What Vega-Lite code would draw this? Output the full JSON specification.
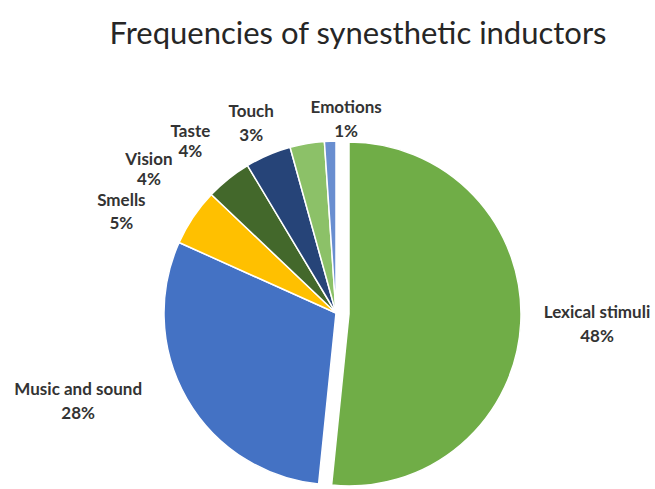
{
  "$schema": "https://vega.github.io/schema/vega-lite/v6.json",
  "autosize": "none",
  "width": 344,
  "height": 344,
  "padding": {"left": 164, "top": 141, "right": 147, "bottom": 4},
  "background": "white",
  "title": {"text": "Frequencies of synesthetic inductors", "fontSize": 31, "font": "Lato", "fontWeight": "normal", "color": "#262626", "anchor": "middle", "dx": 22, "offset": 24, "baseline": "alphabetic"},
  "data": {"values": [
    {"cat": "Lexical stimuli", "value": 48, "idx": 1, "label": "Lexical stimuli\n48%"},
    {"cat": "Music and sound", "value": 28, "idx": 2, "label": "Music and sound\n28%"},
    {"cat": "Smells", "value": 5, "idx": 3, "label": "Smells\n5%"},
    {"cat": "Vision", "value": 4, "idx": 4, "label": "Vision\n4%"},
    {"cat": "Taste", "value": 4, "idx": 5, "label": "Taste\n4%"},
    {"cat": "Touch", "value": 3, "idx": 6, "label": "Touch\n3%"},
    {"cat": "Emotions", "value": 1, "idx": 7, "label": "Emotions\n1%"}
  ]},
  "layer": [
    {"mark": {"type": "arc", "stroke": "white", "strokeWidth": 1.5},
     "encoding": {
       "theta": {"field": "value", "type": "quantitative", "stack": true, "scale": {"domain": [0, 93]}},
       "order": {"field": "idx", "type": "quantitative"},
       "color": {"field": "cat", "type": "nominal", "legend": null, "scale": {"domain": ["Lexical stimuli", "Music and sound", "Smells", "Vision", "Taste", "Touch", "Emotions"], "range": ["#70AD47", "#4472C4", "#FFC000", "#43682B", "#264478", "#8CC168", "#698ED0"]}},
       "opacity": {"condition": {"test": "datum.cat === 'Lexical stimuli'", "value": 0}, "value": 1}}},
    {"mark": {"type": "arc", "stroke": "white", "strokeWidth": 1.5, "xOffset": 13, "yOffset": 1},
     "encoding": {
       "theta": {"field": "value", "type": "quantitative", "stack": true},
       "order": {"field": "idx", "type": "quantitative"},
       "color": {"field": "cat", "type": "nominal", "legend": null},
       "opacity": {"condition": {"test": "datum.cat === 'Lexical stimuli'", "value": 1}, "value": 0}}},
    {"transform": [{"stack": "value", "groupby": [], "sort": [{"field": "idx", "order": "ascending"}], "as": ["v0", "v1"]}, {"filter": "datum.cat === 'Lexical stimuli'"}],
     "mark": {"type": "text", "radius": 248, "thetaOffset": 1.569, "xOffset": 13, "font": "Lato", "fontSize": 17, "fontWeight": "bold", "color": "#333333", "lineBreak": "\n", "lineHeight": 24, "align": "center", "baseline": "middle"},
     "encoding": {"theta": {"field": "v0", "type": "quantitative"}, "text": {"field": "label"}}},
    {"transform": [{"stack": "value", "groupby": [], "sort": [{"field": "idx", "order": "ascending"}], "as": ["v0", "v1"]}, {"filter": "datum.cat === 'Music and sound'"}],
     "mark": {"type": "text", "radius": 269, "thetaOffset": 1.18, "font": "Lato", "fontSize": 17, "fontWeight": "bold", "color": "#333333", "lineBreak": "\n", "lineHeight": 24, "align": "center", "baseline": "middle"},
     "encoding": {"theta": {"field": "v0", "type": "quantitative"}, "text": {"field": "label"}}},
    {"transform": [{"stack": "value", "groupby": [], "sort": [{"field": "idx", "order": "ascending"}], "as": ["v0", "v1"]}, {"filter": "datum.cat === 'Smells'"}],
     "mark": {"type": "text", "radius": 242, "thetaOffset": 0.058, "font": "Lato", "fontSize": 17, "fontWeight": "bold", "color": "#333333", "lineBreak": "\n", "lineHeight": 23, "align": "center", "baseline": "middle"},
     "encoding": {"theta": {"field": "v0", "type": "quantitative"}, "text": {"field": "label"}}},
    {"transform": [{"stack": "value", "groupby": [], "sort": [{"field": "idx", "order": "ascending"}], "as": ["v0", "v1"]}, {"filter": "datum.cat === 'Vision'"}],
     "mark": {"type": "text", "radius": 242, "thetaOffset": -0.073, "font": "Lato", "fontSize": 17, "fontWeight": "bold", "color": "#333333", "lineBreak": "\n", "lineHeight": 20, "align": "center", "baseline": "middle"},
     "encoding": {"theta": {"field": "v0", "type": "quantitative"}, "text": {"field": "label"}}},
    {"transform": [{"stack": "value", "groupby": [], "sort": [{"field": "idx", "order": "ascending"}], "as": ["v0", "v1"]}, {"filter": "datum.cat === 'Taste'"}],
     "mark": {"type": "text", "radius": 232, "thetaOffset": -0.138, "font": "Lato", "fontSize": 17, "fontWeight": "bold", "color": "#333333", "lineBreak": "\n", "lineHeight": 20, "align": "center", "baseline": "middle"},
     "encoding": {"theta": {"field": "v0", "type": "quantitative"}, "text": {"field": "label"}}},
    {"transform": [{"stack": "value", "groupby": [], "sort": [{"field": "idx", "order": "ascending"}], "as": ["v0", "v1"]}, {"filter": "datum.cat === 'Touch'"}],
     "mark": {"type": "text", "radius": 218, "thetaOffset": -0.129, "font": "Lato", "fontSize": 17, "fontWeight": "bold", "color": "#333333", "lineBreak": "\n", "lineHeight": 24, "align": "center", "baseline": "middle"},
     "encoding": {"theta": {"field": "v0", "type": "quantitative"}, "text": {"field": "label"}}},
    {"transform": [{"stack": "value", "groupby": [], "sort": [{"field": "idx", "order": "ascending"}], "as": ["v0", "v1"]}, {"filter": "datum.cat === 'Emotions'"}],
     "mark": {"type": "text", "radius": 205, "thetaOffset": 0.117, "font": "Lato", "fontSize": 17, "fontWeight": "bold", "color": "#333333", "lineBreak": "\n", "lineHeight": 24, "align": "center", "baseline": "middle"},
     "encoding": {"theta": {"field": "v0", "type": "quantitative"}, "text": {"field": "label"}}}
  ],
  "config": {"view": {"stroke": null}}
}
